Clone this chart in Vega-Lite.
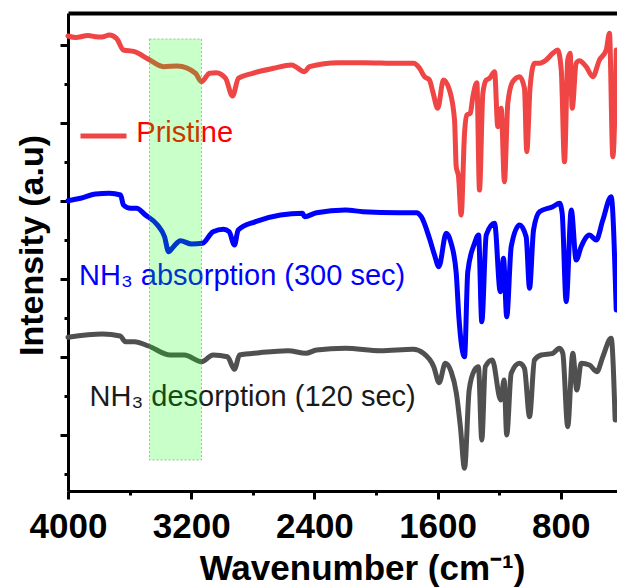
{
  "$schema": "https://vega.github.io/schema/vega-lite/v6.json",
  "width": 549,
  "height": 478,
  "autosize": "none",
  "padding": {"left": 68, "top": 13, "right": 0, "bottom": 97},
  "background": "white",
  "config": {"view": {"stroke": null}, "font": "Liberation Sans"},
  "datasets": {
    "spectra": [
      {"series": "Pristine", "wn": 4000, "v": 455}, {"series": "Pristine", "wn": 3950, "v": 453.5}, {"series": "Pristine", "wn": 3870, "v": 455.5}, {"series": "Pristine", "wn": 3821, "v": 454.3}, {"series": "Pristine", "wn": 3780, "v": 454}, {"series": "Pristine", "wn": 3731, "v": 456}, {"series": "Pristine", "wn": 3685, "v": 452.7}, {"series": "Pristine", "wn": 3640, "v": 441}, {"series": "Pristine", "wn": 3568, "v": 439.3}, {"series": "Pristine", "wn": 3477, "v": 431.7}, {"series": "Pristine", "wn": 3380, "v": 424.3}, {"series": "Pristine", "wn": 3289, "v": 425}, {"series": "Pristine", "wn": 3172, "v": 417.7}, {"series": "Pristine", "wn": 3133, "v": 409.3}, {"series": "Pristine", "wn": 3081, "v": 417.7}, {"series": "Pristine", "wn": 3036, "v": 418.3}, {"series": "Pristine", "wn": 2977, "v": 412.7}, {"series": "Pristine", "wn": 2932, "v": 395}, {"series": "Pristine", "wn": 2893, "v": 412.7}, {"series": "Pristine", "wn": 2802, "v": 417.7}, {"series": "Pristine", "wn": 2666, "v": 422.7}, {"series": "Pristine", "wn": 2549, "v": 426}, {"series": "Pristine", "wn": 2464, "v": 419.3}, {"series": "Pristine", "wn": 2432, "v": 424.3}, {"series": "Pristine", "wn": 2243, "v": 428.3}, {"series": "Pristine", "wn": 2081, "v": 428.3}, {"series": "Pristine", "wn": 1854, "v": 427.7}, {"series": "Pristine", "wn": 1756, "v": 427.7}, {"series": "Pristine", "wn": 1717, "v": 422.7}, {"series": "Pristine", "wn": 1685, "v": 414.3}, {"series": "Pristine", "wn": 1653, "v": 411}, {"series": "Pristine", "wn": 1631, "v": 399.3}, {"series": "Pristine", "wn": 1599, "v": 382.7}, {"series": "Pristine", "wn": 1562, "v": 411}, {"series": "Pristine", "wn": 1523, "v": 401}, {"series": "Pristine", "wn": 1490, "v": 371}, {"series": "Pristine", "wn": 1479, "v": 324.3}, {"series": "Pristine", "wn": 1464, "v": 314.3}, {"series": "Pristine", "wn": 1447, "v": 276}, {"series": "Pristine", "wn": 1425, "v": 358}, {"series": "Pristine", "wn": 1410, "v": 376}, {"series": "Pristine", "wn": 1388, "v": 377.7}, {"series": "Pristine", "wn": 1371, "v": 394.3}, {"series": "Pristine", "wn": 1345, "v": 408.3}, {"series": "Pristine", "wn": 1328, "v": 301}, {"series": "Pristine", "wn": 1306, "v": 397.7}, {"series": "Pristine", "wn": 1284, "v": 411}, {"series": "Pristine", "wn": 1263, "v": 412.7}, {"series": "Pristine", "wn": 1230, "v": 419.3}, {"series": "Pristine", "wn": 1209, "v": 364.3}, {"series": "Pristine", "wn": 1187, "v": 382.7}, {"series": "Pristine", "wn": 1166, "v": 309.3}, {"series": "Pristine", "wn": 1144, "v": 387.7}, {"series": "Pristine", "wn": 1112, "v": 409.3}, {"series": "Pristine", "wn": 1068, "v": 414.3}, {"series": "Pristine", "wn": 1036, "v": 402.7}, {"series": "Pristine", "wn": 1021, "v": 339.3}, {"series": "Pristine", "wn": 999, "v": 404.3}, {"series": "Pristine", "wn": 971, "v": 427.7}, {"series": "Pristine", "wn": 938, "v": 427.7}, {"series": "Pristine", "wn": 895, "v": 431}, {"series": "Pristine", "wn": 852, "v": 437.7}, {"series": "Pristine", "wn": 820, "v": 441}, {"series": "Pristine", "wn": 797, "v": 421}, {"series": "Pristine", "wn": 776, "v": 329.3}, {"series": "Pristine", "wn": 755, "v": 431}, {"series": "Pristine", "wn": 739, "v": 437.7}, {"series": "Pristine", "wn": 726, "v": 382.7}, {"series": "Pristine", "wn": 700, "v": 427.7}, {"series": "Pristine", "wn": 679, "v": 430.3}, {"series": "Pristine", "wn": 635, "v": 424.3}, {"series": "Pristine", "wn": 592, "v": 414.3}, {"series": "Pristine", "wn": 549, "v": 431}, {"series": "Pristine", "wn": 505, "v": 441}, {"series": "Pristine", "wn": 484, "v": 457.7}, {"series": "Pristine", "wn": 462, "v": 334.3}, {"series": "Pristine", "wn": 440, "v": 441},
      {"series": "Absorption", "wn": 4000, "v": 290.3}, {"series": "Absorption", "wn": 3919, "v": 292.7}, {"series": "Absorption", "wn": 3821, "v": 297}, {"series": "Absorption", "wn": 3731, "v": 297.7}, {"series": "Absorption", "wn": 3659, "v": 296}, {"series": "Absorption", "wn": 3640, "v": 286}, {"series": "Absorption", "wn": 3594, "v": 282.7}, {"series": "Absorption", "wn": 3555, "v": 282.7}, {"series": "Absorption", "wn": 3497, "v": 276}, {"series": "Absorption", "wn": 3419, "v": 266}, {"series": "Absorption", "wn": 3373, "v": 254.3}, {"series": "Absorption", "wn": 3347, "v": 239.3}, {"series": "Absorption", "wn": 3315, "v": 244.3}, {"series": "Absorption", "wn": 3270, "v": 250.3}, {"series": "Absorption", "wn": 3198, "v": 247}, {"series": "Absorption", "wn": 3127, "v": 247.7}, {"series": "Absorption", "wn": 3058, "v": 259.3}, {"series": "Absorption", "wn": 2990, "v": 261.7}, {"series": "Absorption", "wn": 2954, "v": 259.3}, {"series": "Absorption", "wn": 2919, "v": 246}, {"series": "Absorption", "wn": 2895, "v": 261}, {"series": "Absorption", "wn": 2782, "v": 269.3}, {"series": "Absorption", "wn": 2620, "v": 276}, {"series": "Absorption", "wn": 2477, "v": 277.7}, {"series": "Absorption", "wn": 2464, "v": 274.3}, {"series": "Absorption", "wn": 2386, "v": 278.3}, {"series": "Absorption", "wn": 2198, "v": 281}, {"series": "Absorption", "wn": 2084, "v": 279.3}, {"series": "Absorption", "wn": 1854, "v": 278.3}, {"series": "Absorption", "wn": 1737, "v": 278.3}, {"series": "Absorption", "wn": 1706, "v": 274.3}, {"series": "Absorption", "wn": 1653, "v": 252.7}, {"series": "Absorption", "wn": 1620, "v": 236}, {"series": "Absorption", "wn": 1592, "v": 224.3}, {"series": "Absorption", "wn": 1544, "v": 257.7}, {"series": "Absorption", "wn": 1512, "v": 247.7}, {"series": "Absorption", "wn": 1479, "v": 217.7}, {"series": "Absorption", "wn": 1462, "v": 174.3}, {"series": "Absorption", "wn": 1425, "v": 134.3}, {"series": "Absorption", "wn": 1404, "v": 219.3}, {"series": "Absorption", "wn": 1360, "v": 247.7}, {"series": "Absorption", "wn": 1334, "v": 256}, {"series": "Absorption", "wn": 1313, "v": 169.3}, {"series": "Absorption", "wn": 1284, "v": 256}, {"series": "Absorption", "wn": 1230, "v": 267.7}, {"series": "Absorption", "wn": 1193, "v": 199.3}, {"series": "Absorption", "wn": 1172, "v": 232.7}, {"series": "Absorption", "wn": 1151, "v": 174.3}, {"series": "Absorption", "wn": 1122, "v": 244.3}, {"series": "Absorption", "wn": 1068, "v": 266}, {"series": "Absorption", "wn": 1025, "v": 254.3}, {"series": "Absorption", "wn": 1003, "v": 202.7}, {"series": "Absorption", "wn": 977, "v": 261}, {"series": "Absorption", "wn": 938, "v": 279.3}, {"series": "Absorption", "wn": 852, "v": 284.3}, {"series": "Absorption", "wn": 808, "v": 287.7}, {"series": "Absorption", "wn": 791, "v": 277.7}, {"series": "Absorption", "wn": 765, "v": 189.3}, {"series": "Absorption", "wn": 732, "v": 281}, {"series": "Absorption", "wn": 700, "v": 231}, {"series": "Absorption", "wn": 668, "v": 244.3}, {"series": "Absorption", "wn": 614, "v": 256}, {"series": "Absorption", "wn": 570, "v": 251}, {"series": "Absorption", "wn": 527, "v": 271}, {"series": "Absorption", "wn": 473, "v": 294.3}, {"series": "Absorption", "wn": 440, "v": 181},
      {"series": "Desorption", "wn": 4000, "v": 153.7}, {"series": "Desorption", "wn": 3776, "v": 157}, {"series": "Desorption", "wn": 3661, "v": 155}, {"series": "Desorption", "wn": 3627, "v": 149.3}, {"series": "Desorption", "wn": 3568, "v": 149.3}, {"series": "Desorption", "wn": 3477, "v": 145}, {"series": "Desorption", "wn": 3336, "v": 136}, {"series": "Desorption", "wn": 3244, "v": 136}, {"series": "Desorption", "wn": 3133, "v": 129.3}, {"series": "Desorption", "wn": 3058, "v": 136}, {"series": "Desorption", "wn": 2965, "v": 134.3}, {"series": "Desorption", "wn": 2919, "v": 121.7}, {"series": "Desorption", "wn": 2886, "v": 136}, {"series": "Desorption", "wn": 2757, "v": 138.3}, {"series": "Desorption", "wn": 2571, "v": 140.3}, {"series": "Desorption", "wn": 2455, "v": 137.7}, {"series": "Desorption", "wn": 2386, "v": 141}, {"series": "Desorption", "wn": 2200, "v": 142.7}, {"series": "Desorption", "wn": 1971, "v": 140.3}, {"series": "Desorption", "wn": 1759, "v": 141.7}, {"series": "Desorption", "wn": 1692, "v": 137.7}, {"series": "Desorption", "wn": 1625, "v": 124.3}, {"series": "Desorption", "wn": 1590, "v": 108.3}, {"series": "Desorption", "wn": 1550, "v": 127.7}, {"series": "Desorption", "wn": 1512, "v": 119.3}, {"series": "Desorption", "wn": 1478, "v": 97.7}, {"series": "Desorption", "wn": 1452, "v": 64.3}, {"series": "Desorption", "wn": 1425, "v": 22.7}, {"series": "Desorption", "wn": 1395, "v": 101}, {"series": "Desorption", "wn": 1360, "v": 121}, {"series": "Desorption", "wn": 1335, "v": 124.3}, {"series": "Desorption", "wn": 1313, "v": 51}, {"series": "Desorption", "wn": 1290, "v": 124.3}, {"series": "Desorption", "wn": 1245, "v": 131}, {"series": "Desorption", "wn": 1190, "v": 91}, {"series": "Desorption", "wn": 1168, "v": 111}, {"series": "Desorption", "wn": 1151, "v": 56}, {"series": "Desorption", "wn": 1122, "v": 117.7}, {"series": "Desorption", "wn": 1068, "v": 127.7}, {"series": "Desorption", "wn": 1036, "v": 122.7}, {"series": "Desorption", "wn": 1003, "v": 74.3}, {"series": "Desorption", "wn": 971, "v": 131}, {"series": "Desorption", "wn": 927, "v": 136}, {"series": "Desorption", "wn": 852, "v": 137.7}, {"series": "Desorption", "wn": 808, "v": 142.7}, {"series": "Desorption", "wn": 787, "v": 137.7}, {"series": "Desorption", "wn": 755, "v": 64.3}, {"series": "Desorption", "wn": 722, "v": 137.7}, {"series": "Desorption", "wn": 696, "v": 101}, {"series": "Desorption", "wn": 668, "v": 127.7}, {"series": "Desorption", "wn": 614, "v": 126}, {"series": "Desorption", "wn": 566, "v": 119.3}, {"series": "Desorption", "wn": 527, "v": 134.3}, {"series": "Desorption", "wn": 473, "v": 152.7}, {"series": "Desorption", "wn": 447, "v": 71}
    ],
    "labels": [
      {"series": "Pristine", "text": "Pristine", "wn": 3556, "v": 349},
      {"series": "Absorption", "text": "NH₃ absorption (300 sec)", "wn": 3928, "v": 206},
      {"series": "Desorption", "text": "NH₃ desorption (120 sec)", "wn": 3860, "v": 85}
    ],
    "legend": [{"series": "Pristine", "x1": 3919, "x2": 3620, "v": 355}],
    "box": [{"x1": 3471, "x2": 3133, "y1": 31, "y2": 452}]
  },
  "layer": [
    {
      "data": {"name": "spectra"},
      "mark": {"type": "line", "strokeWidth": 5, "strokeJoin": "round", "strokeCap": "round", "interpolate": "monotone"},
      "encoding": {
        "x": {
          "field": "wn", "type": "quantitative",
          "scale": {"domain": [4000, 435], "nice": false, "zero": false},
          "axis": {
            "orient": "bottom",
            "values": [4000, 3600, 3200, 2800, 2400, 2000, 1600, 1200, 800],
            "format": "d",
            "labelExpr": "datum.value % 800 === 0 ? datum.label : ''",
            "tickSize": {"condition": {"test": "datum.value % 800 === 0", "value": 8}, "value": 4},
            "tickWidth": 3, "tickColor": "black",
            "domainWidth": 3, "domainColor": "black",
            "grid": false,
            "labelFont": "Liberation Sans", "labelFontWeight": "bold", "labelFontSize": 35, "labelColor": "black",
            "labelBaseline": "alphabetic", "labelPadding": 38, "labelFlush": false, "labelOverlap": false,
            "title": "Wavenumber (cm⁻¹)",
            "titleFont": "Liberation Sans", "titleFontSize": 35, "titleFontWeight": "bold", "titleColor": "black",
            "titleX": 294, "titleY": 88, "titleBaseline": "alphabetic", "titleAlign": "center"
          }
        },
        "y": {
          "field": "v", "type": "quantitative",
          "scale": {"domain": [0, 478], "nice": false, "zero": false},
          "axis": {
            "orient": "left",
            "values": [17, 56, 95, 134, 173, 212, 251, 290, 329, 368, 407, 446],
            "labels": false,
            "tickSize": {"condition": {"test": "(datum.value - 56) % 78 === 0", "value": 8}, "value": 4},
            "tickWidth": 3, "tickColor": "black",
            "domainWidth": 3, "domainColor": "black",
            "grid": false,
            "title": "Intensity (a.u)",
            "titleFont": "Liberation Sans", "titleFontSize": 34, "titleFontWeight": "bold", "titleColor": "black",
            "titleX": -26, "titleY": 232, "titleBaseline": "alphabetic", "titleAlign": "center", "titleAngle": -90
          }
        },
        "color": {
          "field": "series", "type": "nominal",
          "scale": {"domain": ["Pristine", "Absorption", "Desorption"], "range": ["#f04545", "#0000ff", "#505050"]},
          "legend": null
        }
      }
    },
    {
      "data": {"name": "legend"},
      "mark": {"type": "rule", "strokeWidth": 5, "color": "#f04545"},
      "encoding": {
        "x": {"field": "x1", "type": "quantitative", "axis": null},
        "x2": {"field": "x2"},
        "y": {"field": "v", "type": "quantitative", "axis": null}
      }
    },
    {
      "data": {"name": "labels"},
      "mark": {"type": "text", "align": "left", "baseline": "alphabetic", "font": "Liberation Sans"},
      "encoding": {
        "x": {"field": "wn", "type": "quantitative", "axis": null},
        "y": {"field": "v", "type": "quantitative", "axis": null},
        "text": {"field": "text"},
        "size": {
          "field": "series", "type": "nominal",
          "scale": {"domain": ["Pristine", "Absorption", "Desorption"], "range": [29, 29, 28]},
          "legend": null
        },
        "color": {
          "field": "series", "type": "nominal",
          "scale": {"domain": ["Pristine", "Absorption", "Desorption"], "range": ["#ff0000", "#0000ff", "#1a1a1a"]},
          "legend": null
        }
      }
    },
    {
      "data": {"name": "box"},
      "mark": {"type": "rect", "fill": "#00ff00", "fillOpacity": 0.21, "stroke": "#2e9e2e", "strokeDash": [2, 2], "strokeWidth": 1, "strokeOpacity": 0.5},
      "encoding": {
        "x": {"field": "x1", "type": "quantitative", "axis": {"orient": "top", "domainWidth": 4, "domainColor": "black", "ticks": false, "labels": false, "title": null, "grid": false}},
        "x2": {"field": "x2"},
        "y": {"field": "y1", "type": "quantitative", "axis": null},
        "y2": {"field": "y2"}
      }
    }
  ],
  "resolve": {"axis": {"x": "independent", "y": "independent"}, "scale": {"color": "independent"}}
}
